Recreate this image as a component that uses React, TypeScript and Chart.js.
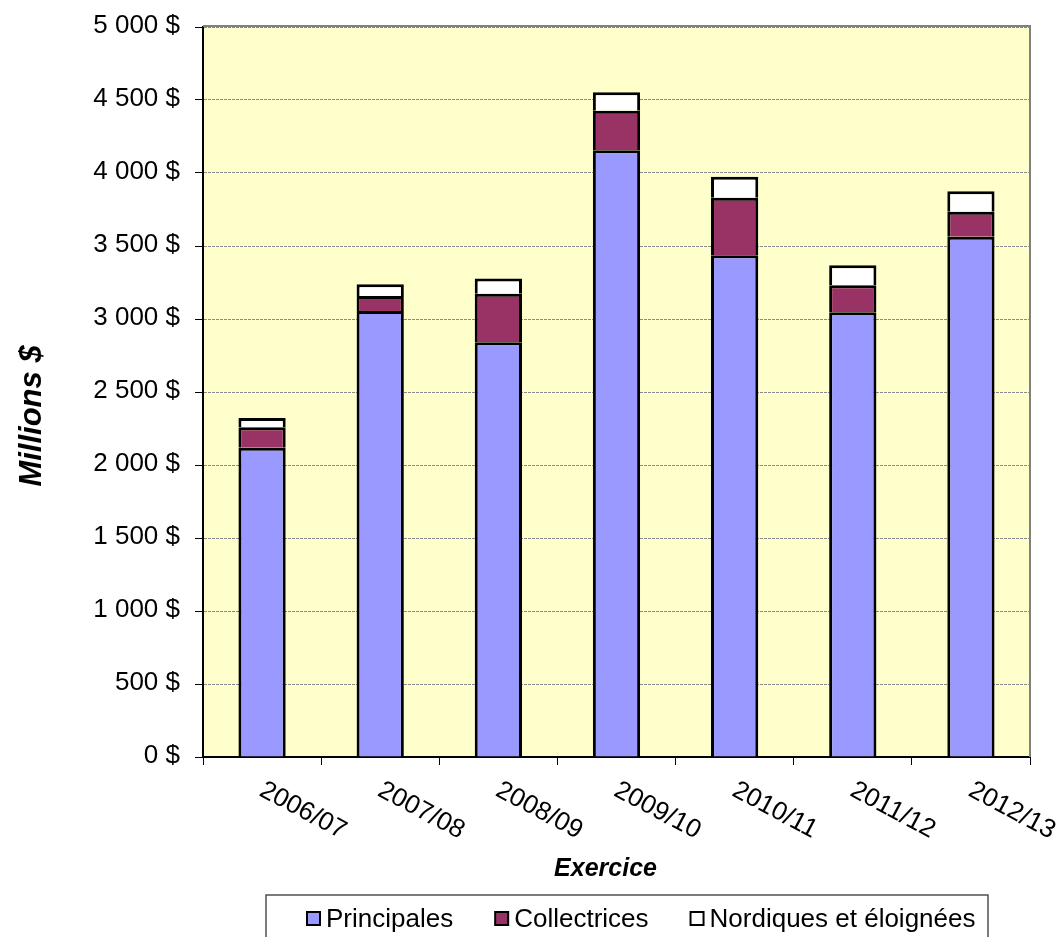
import React, { useEffect, useRef } from "react";
import { Chart, registerables } from "chart.js";

Chart.register(...registerables);

const categories = ["2006/07", "2007/08", "2008/09", "2009/10", "2010/11", "2011/12", "2012/13"];
const principales = [2118, 3055, 2840, 4155, 3436, 3046, 3564];
const collectrices = [140, 103, 333, 272, 395, 185, 171];
const nordiques = [64, 80, 105, 126, 144, 137, 140];
const seriesLabels = ["Principales", "Collectrices", "Nordiques et éloignées"];
const seriesColors = ["#9999FF", "#993366", "#FFFFFF"];
const yTicks = [0, 500, 1000, 1500, 2000, 2500, 3000, 3500, 4000, 4500, 5000];
const yTitle = "Millions $";
const xTitle = "Exercice";

const FONT = "Arial, 'Liberation Sans', sans-serif";

const fmt = (v: number) => String(v).replace(/\B(?=(\d{3})+(?!\d))/g, " ") + " $";

const decorPlugin = {
  id: "decor",
  beforeDraw(chart: any) {
    const { ctx, chartArea: a } = chart;
    ctx.save();
    ctx.fillStyle = "#FFFFCC";
    ctx.fillRect(a.left, a.top, a.right - a.left, a.bottom - a.top);
    ctx.restore();
  },
  afterDraw(chart: any) {
    const { ctx, chartArea: a } = chart;
    const xs = chart.scales.x;
    const ys = chart.scales.y;
    ctx.save();
    // plot border top/right
    ctx.strokeStyle = "#808080";
    ctx.lineWidth = 2;
    ctx.beginPath();
    ctx.moveTo(a.left, a.top - 1);
    ctx.lineTo(a.right, a.top - 1);
    ctx.lineTo(a.right, a.bottom);
    ctx.stroke();

    // y tick labels
    ctx.fillStyle = "#000";
    ctx.font = `26px ${FONT}`;
    ctx.textAlign = "right";
    ctx.textBaseline = "middle";
    yTicks.forEach((v) => {
      ctx.fillText(fmt(v), a.left - 23, ys.getPixelForValue(v) - 1);
    });

    // rotated x labels
    ctx.font = `26px ${FONT}`;
    ctx.textAlign = "left";
    ctx.textBaseline = "alphabetic";
    chart.data.labels.forEach((lab: string, i: number) => {
      const x = xs.getPixelForTick(i);
      ctx.save();
      ctx.translate(x - 4, a.bottom + 38);
      ctx.rotate((28 * Math.PI) / 180);
      ctx.fillText(lab, 0, 0);
      ctx.restore();
    });

    // axis titles
    ctx.font = `italic bold 25px ${FONT}`;
    ctx.textAlign = "center";
    ctx.fillText(xTitle, (a.left + a.right) / 2 - 11, 876);

    ctx.save();
    ctx.translate(41, 416);
    ctx.rotate(-Math.PI / 2);
    ctx.font = `italic bold 31px ${FONT}`;
    ctx.textAlign = "center";
    ctx.fillText(yTitle, 0, 0);
    ctx.restore();

    // legend
    const boxLeft = 266, boxTop = 895, boxRight = 988;
    ctx.strokeStyle = "#505050";
    ctx.lineWidth = 1.5;
    ctx.strokeRect(boxLeft, boxTop, boxRight - boxLeft, 80);
    ctx.font = `26px ${FONT}`;
    ctx.textAlign = "left";
    let lx = 307;
    chart.data.datasets.forEach((ds: any) => {
      ctx.fillStyle = ds.backgroundColor;
      ctx.fillRect(lx, 912, 13, 13);
      ctx.strokeStyle = "#000";
      ctx.lineWidth = 2;
      ctx.strokeRect(lx, 912, 13, 13);
      ctx.fillStyle = "#000";
      ctx.fillText(ds.label, lx + 19, 927);
      lx += 19 + ctx.measureText(ds.label).width + 42;
    });
    ctx.restore();
  },
};

export default function App() {
  const ref = useRef<HTMLCanvasElement>(null);
  useEffect(() => {
    const values = [principales, collectrices, nordiques];
    const chart = new Chart(ref.current!, {
      type: "bar",
      data: {
        labels: categories,
        datasets: values.map((d, i) => ({
          label: seriesLabels[i],
          data: d,
          backgroundColor: seriesColors[i],
          borderColor: "#000",
          borderWidth: 3,
          borderSkipped: "start",
          inflateAmount: 0,
          barPercentage: 0.4,
          categoryPercentage: 1,
        })),
      },
      options: {
        responsive: false,
        animation: false,
        devicePixelRatio: 1,
        layout: { padding: { top: 27, right: 29, left: 0, bottom: 0 } },
        plugins: { legend: { display: false }, tooltip: { enabled: false } },
        scales: {
          x: {
            stacked: true,
            offset: true,
            ticks: { display: false },
            grid: {
              offset: true,
              drawOnChartArea: false,
              drawTicks: true,
              tickLength: 8,
              tickColor: "#000",
              tickWidth: 1,
            },
            border: { color: "#000", width: 2 },
            afterFit: (s: any) => {
              s.height = 180;
            },
          },
          y: {
            stacked: true,
            min: 0,
            max: 5000,
            ticks: { stepSize: 500, display: false },
            grid: {
              color: "#8a8a8a",
              lineWidth: 1,
              tickLength: 8,
              tickColor: "#000",
              tickBorderDash: [],
            },
            border: { color: "#000", width: 2, dash: [3, 1] },
            afterFit: (s: any) => {
              s.width = 203;
            },
          },
        },
      },
      plugins: [decorPlugin],
    });
    return () => chart.destroy();
  }, []);
  return (
    <div style={{ position: "absolute", left: 0, top: 0, width: 1059, height: 937, background: "#fff" }}>
      <canvas ref={ref} width={1059} height={937} />
    </div>
  );
}
